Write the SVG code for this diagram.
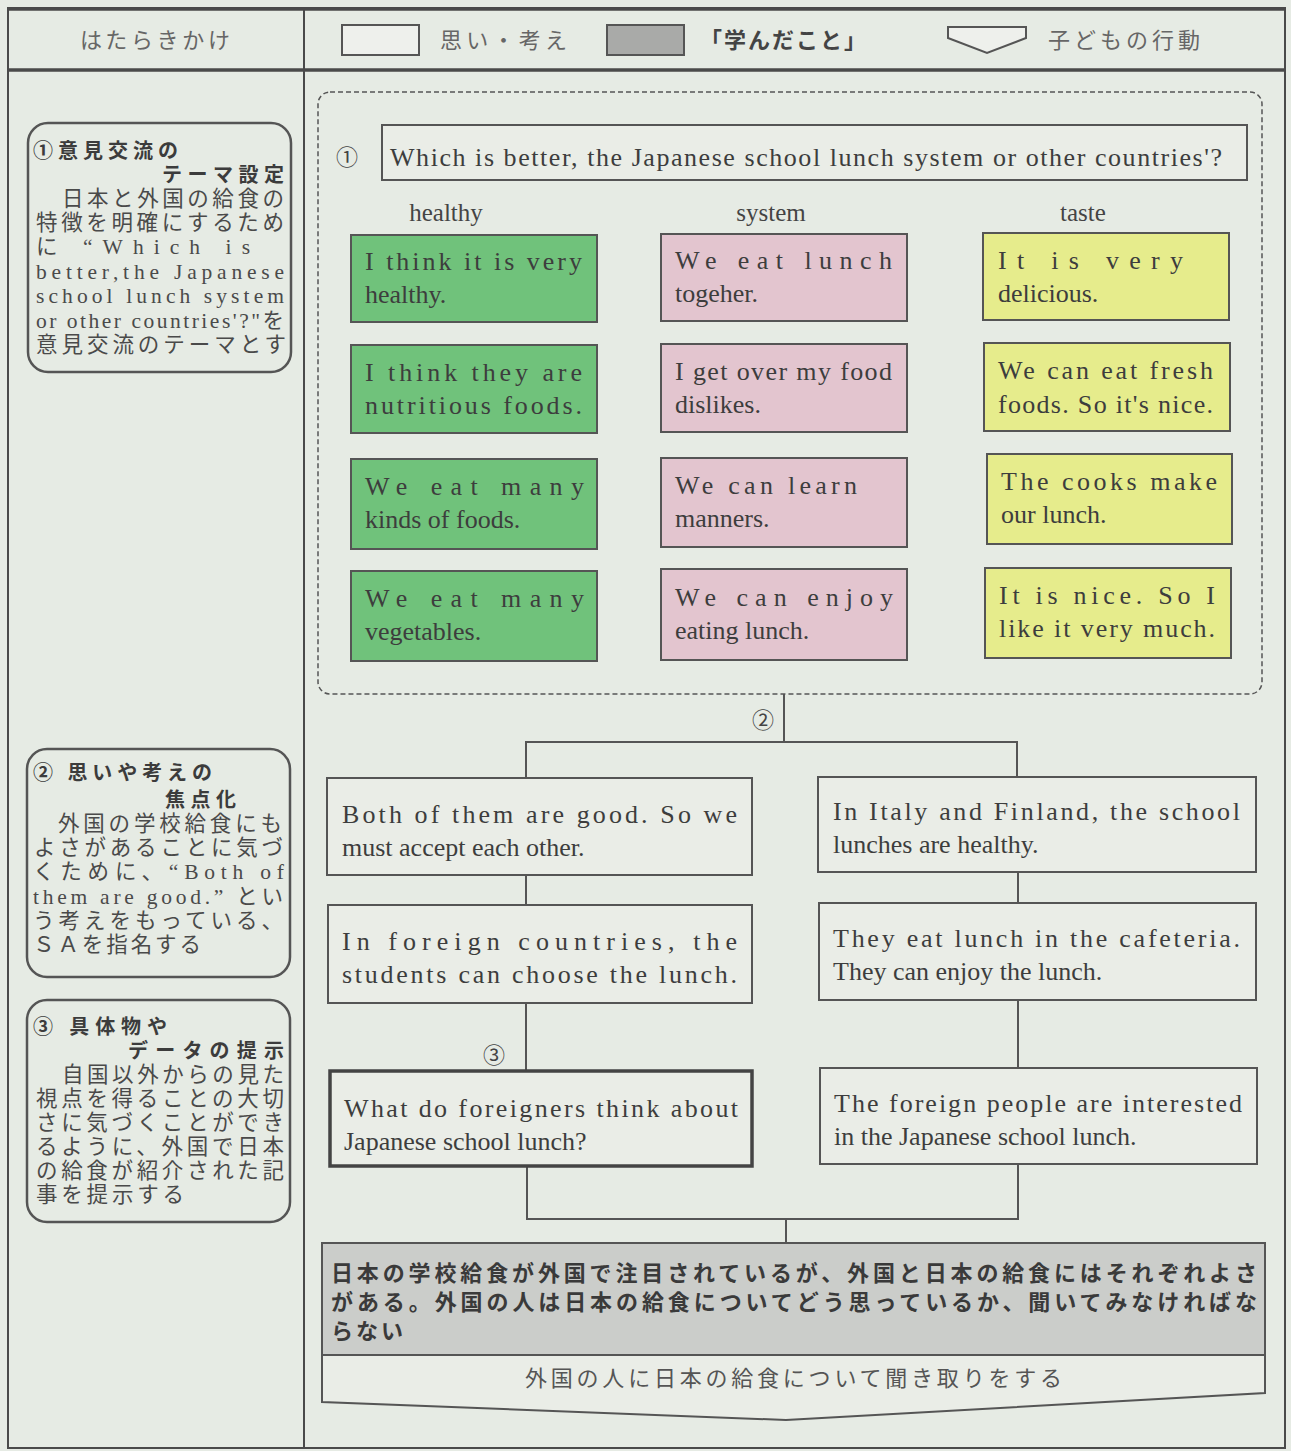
<svg xmlns="http://www.w3.org/2000/svg" width="1291" height="1451" viewBox="0 0 1291 1451">
<style>
.frame{fill:none;stroke:#4a4a4a;stroke-width:2}
.thick{stroke:#4a4a4a;stroke-width:3.5}
.hd{font-family:"Noto Sans CJK JP",sans-serif;font-size:22px;fill:#666}
.hdb{font-family:"Noto Sans CJK JP",sans-serif;font-size:22px;font-weight:bold;fill:#444}
.rbox{fill:none;stroke:#555;stroke-width:2.5}
.tt{font-family:"Noto Sans CJK JP",sans-serif;font-size:20px;font-weight:bold;fill:#3c3c3c}
.bd{font-family:"Liberation Serif","Noto Sans CJK JP",serif;font-size:21.5px;fill:#4a4a4a}
.en{font-family:"Liberation Serif","Noto Sans CJK JP",serif;font-size:26px;fill:#3d3d3d}
.cat{font-family:"Liberation Serif",serif;font-size:25px;fill:#444}
.num{font-family:"Noto Sans CJK JP",sans-serif;font-size:22px;fill:#444}
.g{fill:#70c27b;stroke:#555;stroke-width:2}
.p{fill:#e3c5cf;stroke:#555;stroke-width:2}
.y{fill:#e6ec8c;stroke:#555;stroke-width:2}
.w{fill:#eaede7;stroke:#555;stroke-width:2}
.conn{fill:none;stroke:#555;stroke-width:2}
.jb{font-family:"Noto Sans CJK JP",sans-serif;font-size:22px;font-weight:bold;fill:#3a3a3a}
.jr{font-family:"Noto Sans CJK JP",sans-serif;font-size:22px;fill:#555}
</style>
<rect x="0" y="0" width="1291" height="1451" fill="#e6ebe4"/>

<g id="frame">
<rect x="8" y="8" width="1277" height="1440" class="frame"/>
<line x1="8" y1="9" x2="1285" y2="9" class="thick"/>
<line x1="8" y1="70" x2="1285" y2="70" class="thick"/>
<line x1="304" y1="8" x2="304" y2="1448" class="frame"/>
</g>

<g id="header">
<text x="80" y="48" class="hd" textLength="150" lengthAdjust="spacing">はたらきかけ</text>
<rect x="342" y="25" width="77" height="30" fill="#eef0ec" stroke="#555" stroke-width="2"/>
<text x="440" y="48" class="hd" textLength="127" lengthAdjust="spacing">思い・考え</text>
<rect x="607" y="25" width="77" height="30" fill="#a9aaa8" stroke="#555" stroke-width="2"/>
<text x="700" y="48" class="hdb" textLength="166" lengthAdjust="spacing">「学んだこと」</text>
<polygon points="948,27 1026,27 1026,38 987,53 948,38" fill="#eef0ec" stroke="#555" stroke-width="2"/>
<text x="1048" y="48" class="hd" textLength="152" lengthAdjust="spacing">子どもの行動</text>
</g>

<g id="hint1">
<rect x="28" y="123" width="263" height="249" rx="20" class="rbox"/>
<text x="33" y="158" class="tt" textLength="145" lengthAdjust="spacing">①意見交流の</text>
<text x="162" y="182" class="tt" textLength="122" lengthAdjust="spacing">テーマ設定</text>
<text x="62" y="206" class="bd" textLength="222" lengthAdjust="spacing">日本と外国の給食の</text>
<text x="36" y="230" class="bd" textLength="248" lengthAdjust="spacing">特徴を明確にするため</text>
<text x="36" y="254" class="bd" textLength="214" lengthAdjust="spacing">に “Which is</text>
<text x="36" y="279" class="bd" textLength="248" lengthAdjust="spacing">better,the Japanese</text>
<text x="36" y="303" class="bd" textLength="248" lengthAdjust="spacing">school lunch system</text>
<text x="36" y="328" class="bd" textLength="248" lengthAdjust="spacing">or other countries'?"を</text>
<text x="36" y="352" class="bd" textLength="250" lengthAdjust="spacing">意見交流のテーマとす</text>
</g>

<g id="hint2">
<rect x="27" y="749" width="263" height="228" rx="20" class="rbox"/>
<text x="33" y="780" class="tt" textLength="179" lengthAdjust="spacing">② 思いや考えの</text>
<text x="165" y="807" class="tt" textLength="71" lengthAdjust="spacing">焦点化</text>
<text x="58" y="831" class="bd" textLength="224" lengthAdjust="spacing">外国の学校給食にも</text>
<text x="34" y="855" class="bd" textLength="249" lengthAdjust="spacing">よさがあることに気づ</text>
<text x="33" y="879" class="bd" textLength="251" lengthAdjust="spacing">くために、“Both of</text>
<text x="33" y="904" class="bd" textLength="250" lengthAdjust="spacing">them are good.” とい</text>
<text x="33" y="928" class="bd" textLength="250" lengthAdjust="spacing">う考えをもっている、</text>
<text x="33" y="952" class="bd" textLength="168" lengthAdjust="spacing">ＳＡを指名する</text>
</g>

<g id="hint3">
<rect x="27" y="1000" width="263" height="222" rx="20" class="rbox"/>
<text x="33" y="1034" class="tt" textLength="134" lengthAdjust="spacing">③ 具体物や</text>
<text x="128" y="1058" class="tt" textLength="156" lengthAdjust="spacing">データの提示</text>
<text x="62" y="1082" class="bd" textLength="222" lengthAdjust="spacing">自国以外からの見た</text>
<text x="36" y="1106" class="bd" textLength="248" lengthAdjust="spacing">視点を得ることの大切</text>
<text x="36" y="1130" class="bd" textLength="248" lengthAdjust="spacing">さに気づくことができ</text>
<text x="36" y="1154" class="bd" textLength="248" lengthAdjust="spacing">るように、外国で日本</text>
<text x="36" y="1178" class="bd" textLength="248" lengthAdjust="spacing">の給食が紹介された記</text>
<text x="36" y="1202" class="bd" textLength="148" lengthAdjust="spacing">事を提示する</text>
</g>

<g id="group1">
<rect x="318" y="92" width="944" height="602" rx="12" fill="none" stroke="#555" stroke-width="1.5" stroke-dasharray="5,3"/>
</g>

<g id="question">
<text x="336" y="165" class="num">①</text>
<rect x="382" y="125" width="865" height="55" class="w"/>
<text x="390" y="166" class="en" textLength="832" lengthAdjust="spacing">Which is better, the Japanese school lunch system or other countries'?</text>
</g>

<g id="labels">
<text x="446" y="221" text-anchor="middle" class="cat">healthy</text>
<text x="771" y="221" text-anchor="middle" class="cat">system</text>
<text x="1083" y="221" text-anchor="middle" class="cat">taste</text>
</g>

<g id="g1"><rect x="351" y="235" width="246" height="87" class="g"/>
<text x="365" y="270" class="en" textLength="217" lengthAdjust="spacing">I think it is very</text>
<text x="365" y="303" class="en">healthy.</text></g>
<g id="g2"><rect x="351" y="345" width="246" height="88" class="g"/>
<text x="365" y="381" class="en" textLength="217" lengthAdjust="spacing">I think they are</text>
<text x="365" y="414" class="en" textLength="217" lengthAdjust="spacing">nutritious foods.</text></g>
<g id="g3"><rect x="351" y="459" width="246" height="90" class="g"/>
<text x="365" y="495" class="en" textLength="219" lengthAdjust="spacing">We eat many</text>
<text x="365" y="528" class="en">kinds of foods.</text></g>
<g id="g4"><rect x="351" y="571" width="246" height="90" class="g"/>
<text x="365" y="607" class="en" textLength="219" lengthAdjust="spacing">We eat many</text>
<text x="365" y="640" class="en">vegetables.</text></g>

<g id="p1"><rect x="661" y="234" width="246" height="87" class="p"/>
<text x="675" y="269" class="en" textLength="217" lengthAdjust="spacing">We eat lunch</text>
<text x="675" y="302" class="en">togeher.</text></g>
<g id="p2"><rect x="661" y="344" width="246" height="88" class="p"/>
<text x="675" y="380" class="en" textLength="217" lengthAdjust="spacing">I get over my food</text>
<text x="675" y="413" class="en">dislikes.</text></g>
<g id="p3"><rect x="661" y="458" width="246" height="89" class="p"/>
<text x="675" y="494" class="en" textLength="182" lengthAdjust="spacing">We can learn</text>
<text x="675" y="527" class="en">manners.</text></g>
<g id="p4"><rect x="661" y="569" width="246" height="91" class="p"/>
<text x="675" y="606" class="en" textLength="218" lengthAdjust="spacing">We can enjoy</text>
<text x="675" y="639" class="en">eating lunch.</text></g>

<g id="y1"><rect x="983" y="233" width="246" height="87" class="y"/>
<text x="998" y="269" class="en" textLength="185" lengthAdjust="spacing">It is very</text>
<text x="998" y="302" class="en">delicious.</text></g>
<g id="y2"><rect x="984" y="343" width="246" height="88" class="y"/>
<text x="998" y="379" class="en" textLength="215" lengthAdjust="spacing">We can eat fresh</text>
<text x="998" y="413" class="en" textLength="215" lengthAdjust="spacing">foods. So it's nice.</text></g>
<g id="y3"><rect x="987" y="454" width="245" height="90" class="y"/>
<text x="1001" y="490" class="en" textLength="216" lengthAdjust="spacing">The cooks make</text>
<text x="1001" y="523" class="en">our lunch.</text></g>
<g id="y4"><rect x="985" y="568" width="246" height="90" class="y"/>
<text x="999" y="604" class="en" textLength="216" lengthAdjust="spacing">It is nice. So I</text>
<text x="999" y="637" class="en" textLength="216" lengthAdjust="spacing">like it very much.</text></g>

<g id="connectors">
<polyline points="784,694 784,742" class="conn"/>
<polyline points="526,778 526,742 1017,742 1017,777" class="conn"/>
<line x1="526" y1="875" x2="526" y2="905" class="conn"/>
<line x1="526" y1="1003" x2="526" y2="1071" class="conn"/>
<line x1="1018" y1="872" x2="1018" y2="903" class="conn"/>
<line x1="1018" y1="1000" x2="1018" y2="1068" class="conn"/>
<polyline points="527,1166 527,1219 1018,1219 1018,1164" class="conn"/>
<line x1="786" y1="1219" x2="786" y2="1243" class="conn"/>
<text x="752" y="728" class="num">②</text>
<text x="483" y="1063" class="num">③</text>
</g>

<g id="l1"><rect x="327" y="778" width="425" height="97" class="w"/>
<text x="342" y="823" class="en" textLength="395" lengthAdjust="spacing">Both of them are good. So we</text>
<text x="342" y="856" class="en">must accept each other.</text></g>
<g id="l2"><rect x="328" y="905" width="424" height="98" class="w"/>
<text x="342" y="950" class="en" textLength="395" lengthAdjust="spacing">In foreign countries, the</text>
<text x="342" y="983" class="en" textLength="395" lengthAdjust="spacing">students can choose the lunch.</text></g>
<g id="l3"><rect x="330" y="1071" width="422" height="95" fill="#eaede7" stroke="#444" stroke-width="3.5"/>
<text x="344" y="1117" class="en" textLength="394" lengthAdjust="spacing">What do foreigners think about</text>
<text x="344" y="1150" class="en">Japanese school lunch?</text></g>

<g id="r1"><rect x="818" y="777" width="438" height="95" class="w"/>
<text x="833" y="820" class="en" textLength="407" lengthAdjust="spacing">In Italy and Finland, the school</text>
<text x="833" y="853" class="en">lunches are healthy.</text></g>
<g id="r2"><rect x="819" y="903" width="437" height="97" class="w"/>
<text x="833" y="947" class="en" textLength="407" lengthAdjust="spacing">They eat lunch in the cafeteria.</text>
<text x="833" y="980" class="en">They can enjoy the lunch.</text></g>
<g id="r3"><rect x="820" y="1068" width="437" height="96" class="w"/>
<text x="834" y="1112" class="en" textLength="408" lengthAdjust="spacing">The foreign people are interested</text>
<text x="834" y="1145" class="en">in the Japanese school lunch.</text></g>

<g id="summary">
<path d="M322,1243 H1265 V1393 L786,1420 L322,1402 Z" fill="#eaede7" stroke="#555" stroke-width="2"/>
<rect x="322" y="1243" width="943" height="112" fill="#cbcdca" stroke="#555" stroke-width="2"/>
<text x="331" y="1281" class="jb" textLength="926" lengthAdjust="spacing">日本の学校給食が外国で注目されているが、外国と日本の給食にはそれぞれよさ</text>
<text x="331" y="1310" class="jb" textLength="926" lengthAdjust="spacing">がある。外国の人は日本の給食についてどう思っているか、聞いてみなければな</text>
<text x="331" y="1339" class="jb" textLength="72" lengthAdjust="spacing">らない</text>
<text x="525" y="1386" class="jr" textLength="537" lengthAdjust="spacing">外国の人に日本の給食について聞き取りをする</text>
</g>
</svg>
